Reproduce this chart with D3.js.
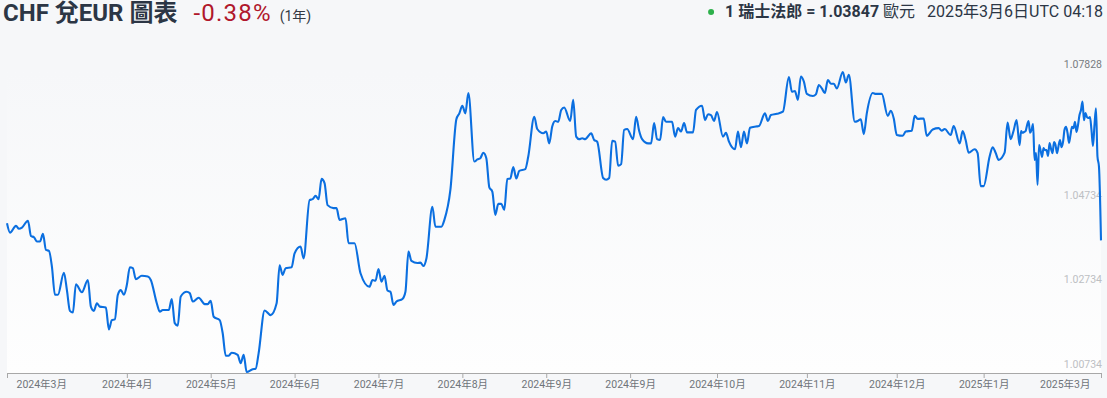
<!DOCTYPE html>
<html>
<head>
<meta charset="utf-8">
<script src="https://cdn.jsdelivr.net/npm/d3@7"></script>
<style>
  body { margin: 0; background: #f6f7f9; font-family: Roboto, "Noto Sans CJK TC", sans-serif; }
  svg { display: block; }
</style>
</head>
<body>
<svg id="chart" width="1107" height="398"></svg>
<script>
// CHF -> EUR, one year of rates
var dates = [
  "2024-03-06","2024-03-07","2024-03-09","2024-03-10","2024-03-11","2024-03-13","2024-03-14","2024-03-15","2024-03-16","2024-03-17","2024-03-18","2024-03-19","2024-03-20","2024-03-21","2024-03-22","2024-03-23","2024-03-25","2024-03-26","2024-03-27","2024-03-28","2024-03-29","2024-03-31",
  "2024-04-02","2024-04-03","2024-04-04","2024-04-05","2024-04-06","2024-04-08","2024-04-09","2024-04-10","2024-04-11","2024-04-12","2024-04-13","2024-04-14","2024-04-15","2024-04-16","2024-04-17","2024-04-18","2024-04-20","2024-04-22","2024-04-23","2024-04-25","2024-04-26","2024-04-27","2024-04-29","2024-04-30",
  "2024-05-01","2024-05-02","2024-05-03","2024-05-05","2024-05-06","2024-05-07","2024-05-09","2024-05-11","2024-05-12","2024-05-13","2024-05-14","2024-05-16","2024-05-17","2024-05-18","2024-05-19","2024-05-20","2024-05-22","2024-05-23","2024-05-24","2024-05-25","2024-05-27","2024-05-28","2024-05-29","2024-05-31",
  "2024-06-02","2024-06-04","2024-06-05","2024-06-06","2024-06-07","2024-06-09","2024-06-10","2024-06-12","2024-06-13","2024-06-15","2024-06-16","2024-06-17","2024-06-18","2024-06-19","2024-06-20","2024-06-21","2024-06-23","2024-06-24","2024-06-25","2024-06-27","2024-06-28","2024-06-30",
  "2024-07-02","2024-07-05","2024-07-06","2024-07-07","2024-07-08","2024-07-09","2024-07-10","2024-07-11","2024-07-12","2024-07-13","2024-07-14","2024-07-16","2024-07-17","2024-07-18","2024-07-19","2024-07-21","2024-07-22","2024-07-23","2024-07-24","2024-07-26","2024-07-27","2024-07-29","2024-07-30",
  "2024-08-01","2024-08-03","2024-08-04","2024-08-05","2024-08-06","2024-08-07","2024-08-09","2024-08-10","2024-08-11","2024-08-12","2024-08-13","2024-08-14","2024-08-15","2024-08-16","2024-08-17","2024-08-18","2024-08-19","2024-08-20","2024-08-21","2024-08-22","2024-08-23","2024-08-24","2024-08-26","2024-08-27","2024-08-29","2024-08-30",
  "2024-09-01","2024-09-02","2024-09-03","2024-09-04","2024-09-05","2024-09-06","2024-09-07","2024-09-08","2024-09-10","2024-09-11","2024-09-12","2024-09-13","2024-09-14","2024-09-15","2024-09-17","2024-09-18","2024-09-19","2024-09-21","2024-09-22","2024-09-23","2024-09-24","2024-09-25","2024-09-26","2024-09-27","2024-09-28","2024-09-29",
  "2024-10-01","2024-10-02","2024-10-03","2024-10-04","2024-10-06","2024-10-07","2024-10-08","2024-10-09","2024-10-10","2024-10-11","2024-10-12","2024-10-14","2024-10-15","2024-10-16","2024-10-17","2024-10-18","2024-10-19","2024-10-21","2024-10-22","2024-10-24","2024-10-25","2024-10-26","2024-10-27","2024-10-28","2024-10-29","2024-10-31",
  "2024-11-01","2024-11-02","2024-11-04","2024-11-05","2024-11-06","2024-11-07","2024-11-08","2024-11-09","2024-11-11","2024-11-12","2024-11-14","2024-11-15","2024-11-16","2024-11-18","2024-11-20","2024-11-22","2024-11-23","2024-11-24","2024-11-25","2024-11-26","2024-11-27","2024-11-28","2024-11-30",
  "2024-12-01","2024-12-02","2024-12-03","2024-12-04","2024-12-05","2024-12-06","2024-12-07","2024-12-08","2024-12-10","2024-12-11","2024-12-12","2024-12-14","2024-12-15","2024-12-16","2024-12-17","2024-12-18","2024-12-20","2024-12-21","2024-12-23","2024-12-25","2024-12-26","2024-12-27","2024-12-28","2024-12-30","2024-12-31",
  "2025-01-02","2025-01-03","2025-01-04","2025-01-06","2025-01-07","2025-01-09","2025-01-11","2025-01-12","2025-01-13","2025-01-15","2025-01-16","2025-01-18","2025-01-19","2025-01-20","2025-01-21","2025-01-23","2025-01-24","2025-01-25","2025-01-26","2025-01-28","2025-01-29","2025-01-30","2025-01-31",
  "2025-02-02","2025-02-03","2025-02-04","2025-02-05","2025-02-06",
  // last month comes in twice a day
  "2025-02-07 00:00","2025-02-07 12:00","2025-02-08 00:00","2025-02-08 12:00","2025-02-09 00:00","2025-02-09 12:00","2025-02-10 00:00","2025-02-10 12:00","2025-02-11 00:00","2025-02-11 12:00",
  "2025-02-12 00:00","2025-02-12 12:00","2025-02-13 00:00","2025-02-13 12:00","2025-02-14 00:00","2025-02-14 12:00","2025-02-15 00:00","2025-02-15 12:00","2025-02-16 00:00","2025-02-16 12:00",
  "2025-02-17 00:00","2025-02-17 12:00","2025-02-18 00:00","2025-02-18 12:00","2025-02-19 00:00","2025-02-19 12:00","2025-02-20 00:00","2025-02-20 12:00","2025-02-21 00:00","2025-02-21 12:00",
  "2025-02-22 00:00","2025-02-22 12:00","2025-02-23 00:00","2025-02-23 12:00","2025-02-24 00:00","2025-02-24 12:00","2025-02-25 00:00","2025-02-25 12:00","2025-02-26 00:00","2025-02-26 12:00",
  "2025-02-27 00:00","2025-02-27 12:00","2025-02-28 00:00","2025-02-28 12:00","2025-03-01 00:00","2025-03-01 12:00","2025-03-02 00:00","2025-03-02 12:00","2025-03-03 00:00","2025-03-03 12:00",
  "2025-03-04 00:00","2025-03-04 12:00","2025-03-05 00:00","2025-03-05 12:00","2025-03-06 04:18"
];

var rates = [
  1.0425,1.0403,1.0419,1.0412,1.0415,1.0431,1.0395,1.0392,1.0382,1.0382,1.0400,1.0362,1.0360,1.0322,1.0256,1.0256,1.0308,1.0267,1.0218,1.0214,1.0281,1.0262,
  1.0291,1.0228,1.0218,1.0236,1.0228,1.0226,1.0174,1.0196,1.0198,1.0256,1.0267,1.0256,1.0279,1.0321,1.0319,1.0293,1.0301,1.0299,1.0291,1.0236,1.0216,1.0220,1.0220,1.0246,
  1.0189,1.0183,1.0252,1.0263,1.0260,1.0240,1.0249,1.0234,1.0234,1.0242,1.0204,1.0196,1.0165,1.0112,1.0112,1.0119,1.0114,1.0094,1.0114,1.00734,1.0080,1.0081,1.0118,1.0219,
  1.0208,1.0236,1.0326,1.0303,1.0319,1.0321,1.0354,1.0370,1.0342,1.0480,1.0482,1.0490,1.0482,1.0530,1.0520,1.0468,1.0461,1.0461,1.0433,1.0437,1.0378,1.0378,
  1.0307,1.0275,1.0291,1.0289,1.0317,1.0287,1.0301,1.0266,1.0263,1.0232,1.0240,1.0246,1.0263,1.0358,1.0336,1.0331,1.0332,1.0324,1.0342,1.0464,1.0417,1.0417,1.0433,
  1.0504,1.0671,1.0685,1.0703,1.0685,1.0733,1.0571,1.0576,1.0579,1.0592,1.0579,1.0510,1.0500,1.0445,1.0471,1.0471,1.0457,1.0530,1.0531,1.0558,1.0531,1.0549,1.0553,1.0583,1.0677,1.0648,
  1.0638,1.0642,1.0614,1.0654,1.0667,1.0665,1.0693,1.0699,1.0667,1.0717,1.0630,1.0624,1.0626,1.0624,1.0638,1.0622,1.0618,1.0532,1.0528,1.0532,1.0620,1.0618,1.0561,1.0565,1.0646,1.0648,
  1.0624,1.0677,1.0644,1.0624,1.0614,1.0614,1.0662,1.0624,1.0622,1.0676,1.0665,1.0665,1.0630,1.0650,1.0642,1.0662,1.0640,1.0640,1.0693,1.0703,1.0669,1.0683,1.0681,1.0667,1.0688,1.0630,
  1.0639,1.0618,1.0600,1.0642,1.0605,1.0642,1.0614,1.0651,1.0654,1.0655,1.0685,1.0667,1.0681,1.0684,1.0689,1.0771,1.0736,1.0738,1.0717,1.0772,1.0760,1.0731,1.0726,
  1.0730,1.0752,1.0744,1.0733,1.0764,1.0755,1.0755,1.0744,1.07828,1.0758,1.0776,1.0665,1.0667,1.0671,1.0636,1.0685,1.0733,1.0731,1.0731,1.0679,1.0691,1.0673,1.0634,1.0632,1.0642,
  1.0644,1.0679,1.0672,1.0673,1.0632,1.0647,1.0650,1.0644,1.0648,1.0634,1.0655,1.0614,1.0643,1.0622,1.0592,1.0600,1.0591,1.0513,1.0513,1.0583,1.0605,1.0592,1.0575,
  1.0592,1.0663,1.0624,1.0644,1.0669,
  1.0610,1.0643,1.0639,1.0641,1.0643,1.0657,1.0667,1.0639,1.0646,1.0660,
  1.0575,1.0591,1.0516,1.0610,1.0598,1.0582,1.0603,1.0598,1.0598,1.0584,
  1.0615,1.0601,1.0591,1.0617,1.0610,1.0591,1.0608,1.0622,1.0605,1.0617,
  1.0646,1.0653,1.0639,1.0615,1.0634,1.0653,1.0650,1.0665,1.0641,1.0657,
  1.0681,1.0693,1.0713,1.0669,1.0686,1.0676,1.0674,1.0676,1.0646,1.0608,
  1.0657,1.0697,1.0583,1.0559,1.03847
];

var tickDates = ["2024-03-06","2024-04-15","2024-05-13","2024-06-10","2024-07-08","2024-08-05","2024-09-02","2024-09-30","2024-10-29","2024-11-28","2024-12-28","2025-01-26","2025-03-06 04:18"];
var tickLabels = ["2024年3月","2024年4月","2024年5月","2024年6月","2024年7月","2024年8月","2024年9月","2024年9月","2024年10月","2024年11月","2024年12月","2025年1月","2025年3月"];
var yTickValues = [1.00734, 1.02734, 1.04734, 1.07828];

var titleText = "CHF 兌EUR 圖表";
var changeText = "-0.38%";
var periodText = "(1年)";
var lastRate = 1.03847;
var stampText = "2025年3月6日UTC 04:18";

var parseDay = d3.timeParse("%Y-%m-%d");
var parseHour = d3.timeParse("%Y-%m-%d %H:%M");
function toDate(s) { return s.length > 10 ? parseHour(s) : parseDay(s); }

var data = dates.map(function(d, i) { return { date: toDate(d), value: rates[i] }; });

var svg = d3.select('#chart');
// plot box (window.top is reserved, so prefixed names)
var plotLeft = 7, plotRight = 1101, plotTop = 72, plotBottom = 372;

var x = d3.scaleTime()
    .domain(d3.extent(data, function(d) { return d.date; }))
    .range([plotLeft, plotRight]);

var y = d3.scaleLinear()
    .domain(d3.extent(rates))
    .range([plotBottom, plotTop]);

// soft background of the plot area
var defs = svg.append('defs');
var grad = defs.append('linearGradient')
    .attr('id', 'plotBg')
    .attr('x1', 0).attr('y1', 0).attr('x2', 0).attr('y2', 1);
grad.append('stop').attr('offset', '0%').attr('stop-color', '#f6f7f9');
grad.append('stop').attr('offset', '100%').attr('stop-color', '#fefefe');

svg.append('rect')
    .attr('x', plotLeft)
    .attr('y', plotTop)
    .attr('width', plotRight - plotLeft)
    .attr('height', plotBottom - plotTop + 1)
    .attr('fill', 'url(#plotBg)');

// header on the left
var head = svg.append('text')
    .attr('x', 3)
    .attr('y', 21);
head.append('tspan')
    .attr('font-size', 24)
    .attr('font-weight', 700)
    .attr('fill', '#2c3645')
    .text(titleText);
head.append('tspan')
    .attr('dx', 16)
    .attr('font-size', 24)
    .attr('letter-spacing', 1.2)
    .attr('fill', '#b0172b')
    .text(changeText);
head.append('tspan')
    .attr('dx', 8)
    .attr('font-size', 14)
    .attr('letter-spacing', 0)
    .attr('fill', '#333a44')
    .text(periodText);

// header on the right
var info = svg.append('text')
    .attr('x', 1103)
    .attr('y', 17)
    .attr('text-anchor', 'end')
    .attr('font-size', 16)
    .attr('fill', '#2c3645');
info.append('tspan')
    .attr('font-weight', 700)
    .text('1 瑞士法郎 = ' + lastRate.toFixed(5));
info.append('tspan')
    .attr('dx', 4)
    .text('歐元');
info.append('tspan')
    .attr('dx', 12)
    .text(stampText);

var infoBox = info.node().getBBox();
svg.append('circle')
    .attr('cx', infoBox.x - 14)
    .attr('cy', 12)
    .attr('r', 3)
    .attr('fill', '#2db04b');

// x axis
var xAxis = d3.axisBottom(x)
    .tickValues(tickDates.map(toDate))
    .tickFormat(function(d, i) { return tickLabels[i]; })
    .tickSize(5)
    .tickSizeOuter(0)
    .tickPadding(3);

var gx = svg.append('g')
    .attr('transform', 'translate(0,' + (plotBottom + 1) + ')')
    .call(xAxis);

gx.select('.domain').attr('stroke', '#a8a8a8');
gx.selectAll('.tick line').attr('stroke', '#a8a8a8');
gx.selectAll('.tick text')
    .attr('fill', '#6f747a')
    .attr('font-size', 10.5)
    .attr('font-family', 'Roboto, "Noto Sans CJK TC", sans-serif');

// first and last labels are pulled inside the plot
var nTicks = tickDates.length;
gx.selectAll('.tick text')
    .filter(function(d, i) { return i === 0; })
    .attr('text-anchor', 'start')
    .attr('x', 9);
gx.selectAll('.tick text')
    .filter(function(d, i) { return i === nTicks - 1; })
    .attr('text-anchor', 'end')
    .attr('x', -11);

// y labels on the right, no grid
svg.append('g')
    .selectAll('text')
    .data(yTickValues)
    .enter()
    .append('text')
    .attr('x', 1102)
    .attr('y', function(d) { return y(d) - 4; })
    .attr('text-anchor', 'end')
    .attr('font-size', 10.5)
    .attr('fill', function(d, i) { return i === yTickValues.length - 1 ? '#777b80' : '#bdbfc3'; })
    .text(function(d) { return d.toFixed(5); });

// rate line
var line = d3.line()
    .x(function(d) { return x(d.date); })
    .y(function(d) { return y(d.value); })
    .curve(d3.curveMonotoneX);

svg.append('path')
    .datum(data)
    .attr('fill', 'none')
    .attr('stroke', '#0b6fe0')
    .attr('stroke-width', 2.1)
    .attr('stroke-linejoin', 'round')
    .attr('d', line);
</script>
</body>
</html>
